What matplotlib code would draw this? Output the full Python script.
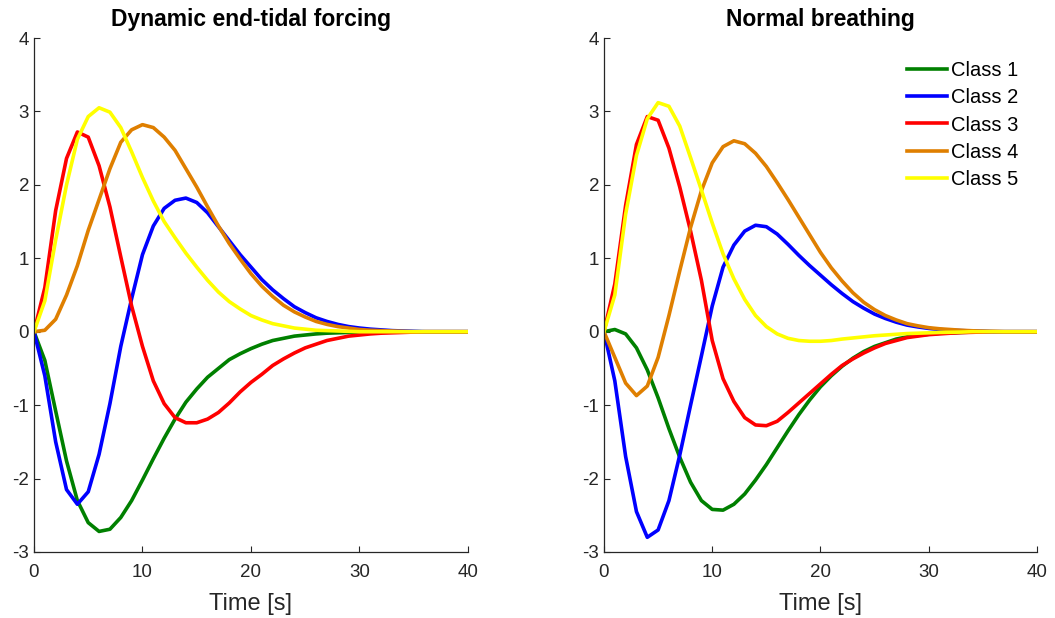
import numpy as np
import matplotlib
matplotlib.use("Agg")
import matplotlib.pyplot as plt

plt.rcParams["font.family"] = ["Liberation Sans", "DejaVu Sans"]
plt.rcParams["axes.unicode_minus"] = False

# sample times [s]
time = np.arange(41)

titles = ["Dynamic end-tidal forcing", "Normal breathing"]
labels = ["Class 1", "Class 2", "Class 3", "Class 4", "Class 5"]
colors = ["#008000", "#0000ff", "#ff0000", "#df7f00", "#ffff00"]

# Dynamic end-tidal forcing
forcing_c1 = [0, -0.39, -1.08, -1.76, -2.3, -2.6, -2.72, -2.69, -2.53, -2.3, -2.02,
              -1.73, -1.45, -1.19, -0.96, -0.78, -0.62, -0.5, -0.38, -0.3, -0.23,
              -0.17, -0.12, -0.09, -0.06, -0.045, -0.03, -0.02, -0.015, -0.01, -0.005,
              0, 0, 0, 0, 0, 0, 0, 0, 0, 0]
forcing_c2 = [0, -0.6, -1.5, -2.15, -2.35, -2.18, -1.67, -0.98, -0.2, 0.45, 1.05,
              1.44, 1.68, 1.79, 1.82, 1.76, 1.62, 1.43, 1.24, 1.05, 0.88,
              0.71, 0.57, 0.45, 0.34, 0.26, 0.19, 0.14, 0.1, 0.07, 0.05,
              0.035, 0.025, 0.015, 0.01, 0.005, 0, 0, 0, 0, 0]
forcing_c3 = [0, 0.6, 1.65, 2.36, 2.72, 2.65, 2.26, 1.7, 1.02, 0.35, -0.2,
              -0.67, -0.98, -1.17, -1.24, -1.24, -1.19, -1.1, -0.97, -0.82, -0.69,
              -0.58, -0.46, -0.37, -0.29, -0.22, -0.17, -0.12, -0.09, -0.06, -0.045,
              -0.03, -0.02, -0.015, -0.01, -0.005, 0, 0, 0, 0, 0]
forcing_c4 = [0, 0.02, 0.17, 0.5, 0.9, 1.38, 1.8, 2.22, 2.58, 2.75, 2.82,
              2.78, 2.65, 2.47, 2.22, 1.97, 1.7, 1.44, 1.2, 0.99, 0.79,
              0.62, 0.48, 0.36, 0.27, 0.2, 0.14, 0.1, 0.07, 0.05, 0.03,
              0.02, 0.015, 0.01, 0.005, 0, 0, 0, 0, 0, 0]
forcing_c5 = [0, 0.42, 1.25, 2.0, 2.62, 2.93, 3.05, 2.99, 2.78, 2.45, 2.1,
              1.78, 1.5, 1.28, 1.07, 0.88, 0.7, 0.54, 0.41, 0.31, 0.22,
              0.16, 0.11, 0.08, 0.05, 0.035, 0.02, 0.015, 0.01, 0.005, 0,
              0, 0, 0, 0, 0, 0, 0, 0, 0, 0]

# Normal breathing
normal_c1 = [0, 0.03, -0.03, -0.22, -0.52, -0.9, -1.32, -1.71, -2.05, -2.3, -2.42,
             -2.43, -2.35, -2.21, -2.02, -1.81, -1.58, -1.35, -1.13, -0.93, -0.75,
             -0.6, -0.47, -0.36, -0.27, -0.2, -0.15, -0.1, -0.07, -0.05, -0.035,
             -0.02, -0.015, -0.01, -0.005, 0, 0, 0, 0, 0, 0]
normal_c2 = [0, -0.67, -1.7, -2.45, -2.8, -2.7, -2.3, -1.68, -1.0, -0.33, 0.35,
             0.88, 1.18, 1.37, 1.45, 1.43, 1.33, 1.19, 1.04, 0.9, 0.77,
             0.64, 0.52, 0.41, 0.32, 0.24, 0.18, 0.13, 0.09, 0.065, 0.045,
             0.03, 0.02, 0.015, 0.01, 0.005, 0, 0, 0, 0, 0]
normal_c3 = [0, 0.65, 1.72, 2.55, 2.93, 2.88, 2.5, 1.97, 1.37, 0.7, -0.12,
             -0.64, -0.95, -1.17, -1.27, -1.28, -1.22, -1.1, -0.97, -0.84, -0.71,
             -0.58, -0.46, -0.37, -0.29, -0.22, -0.16, -0.12, -0.08, -0.06, -0.04,
             -0.03, -0.02, -0.012, -0.008, -0.004, 0, 0, 0, 0, 0]
normal_c4 = [0, -0.35, -0.7, -0.87, -0.74, -0.35, 0.22, 0.83, 1.42, 1.92, 2.3,
             2.52, 2.6, 2.56, 2.43, 2.25, 2.03, 1.8, 1.56, 1.32, 1.08,
             0.87, 0.69, 0.53, 0.4, 0.3, 0.22, 0.16, 0.11, 0.08, 0.055,
             0.04, 0.03, 0.02, 0.013, 0.008, 0.005, 0, 0, 0, 0]
normal_c5 = [0, 0.5, 1.6, 2.4, 2.9, 3.12, 3.07, 2.8, 2.37, 1.93, 1.48,
             1.06, 0.72, 0.44, 0.22, 0.07, -0.03, -0.09, -0.12, -0.13, -0.13,
             -0.12, -0.1, -0.085, -0.07, -0.055, -0.045, -0.035, -0.025, -0.02, -0.015,
             -0.01, -0.008, -0.005, 0, 0, 0, 0, 0, 0, 0]

panels = [
    [forcing_c1, forcing_c2, forcing_c3, forcing_c4, forcing_c5],
    [normal_c1, normal_c2, normal_c3, normal_c4, normal_c5],
]

fig = plt.figure(figsize=(10.55, 6.18), dpi=100)
ax_left = fig.add_axes([0.0322, 0.1068, 0.4114, 0.8317])
ax_right = fig.add_axes([0.5725, 0.1068, 0.4104, 0.8317])

for ax, title, series in zip([ax_left, ax_right], titles, panels):
    for values, color, label in zip(series, colors, labels):
        ax.plot(time, values, color=color, lw=2.6, label=label)
    ax.set_xlim(0, 40)
    ax.set_ylim(-3, 4)
    ax.set_xticks([0, 10, 20, 30, 40])
    ax.set_yticks([-3, -2, -1, 0, 1, 2, 3, 4])
    ax.spines["top"].set_visible(False)
    ax.spines["right"].set_visible(False)
    for side in ["left", "bottom"]:
        ax.spines[side].set_linewidth(0.9)
        ax.spines[side].set_color("#262626")
    ax.tick_params(direction="in", length=4, width=0.8, labelsize=13.5,
                   color="#262626", labelcolor="#262626")
    ax.tick_params(axis="x", pad=9)
    ax.set_title(title, fontsize=16.5, fontweight="bold", pad=9)
    ax.set_xlabel("Time [s]", fontsize=17, color="#262626", labelpad=8)

ax_right.legend(loc="upper right", bbox_to_anchor=(0.985, 0.978), frameon=False,
                fontsize=14.5, handlelength=2.0, handletextpad=0.2,
                labelspacing=0.4, borderaxespad=0.2)

fig.savefig("out.png", dpi=100)
